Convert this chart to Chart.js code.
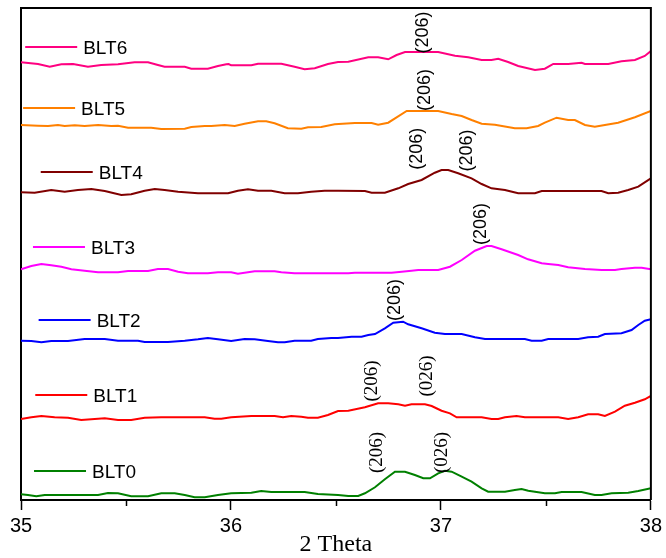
<!DOCTYPE html>
<html>
<head>
<meta charset="utf-8">
<script src="https://cdn.jsdelivr.net/npm/chart.js@4.4.1/dist/chart.umd.min.js"></script>
<style>
  html, body { margin: 0; padding: 0; background: #fff; }
  #wrap { width: 666px; height: 558px; }
</style>
</head>
<body>
<div id="wrap"><canvas id="c" width="666" height="558"></canvas></div>
<script>
// ---- data: [2θ, intensity (offset, a.u.)] ----
const seriesNames = ['BLT0', 'BLT1', 'BLT2', 'BLT3', 'BLT4', 'BLT5', 'BLT6'];

const blt0 = [[35.0,5.7],[35.033,5],[35.073,3.7],[35.113,5],[35.176,5],[35.271,5],[35.367,5],[35.414,7],[35.462,6.7],[35.525,3.7],[35.605,3.7],[35.668,6.7],[35.732,6.7],[35.78,5],[35.827,2.7],[35.875,2.7],[35.938,5],[36.001,6.7],[36.097,7.3],[36.144,9],[36.192,8],[36.351,8],[36.414,6],[36.51,5],[36.559,4],[36.606,4],[36.638,6.7],[36.686,12.7],[36.733,20.7],[36.781,28.3],[36.829,28.3],[36.876,25],[36.916,21.7],[36.948,21.7],[36.987,26.7],[37.019,29.3],[37.051,28.3],[37.099,23.3],[37.146,18.3],[37.194,11.7],[37.225,8.3],[37.305,8.3],[37.352,10],[37.384,11],[37.416,9.3],[37.495,6.7],[37.543,6.7],[37.575,8],[37.67,8],[37.733,5],[37.765,5],[37.813,6.7],[37.892,7.3],[37.94,9],[38.0,11.7]];

const blt1 = [[35.0,81],[35.049,82.7],[35.097,84],[35.16,82.7],[35.224,82.3],[35.287,80],[35.351,81],[35.399,81.7],[35.462,80],[35.525,80],[35.589,82.3],[35.668,82.7],[35.875,82.7],[35.922,81.3],[35.954,81.3],[36.001,82.7],[36.097,84],[36.208,84],[36.248,82.7],[36.287,84],[36.335,83.3],[36.367,82.3],[36.414,82.3],[36.462,85],[36.51,89],[36.559,89.3],[36.638,92.7],[36.701,96.7],[36.749,96.7],[36.797,95.7],[36.829,94.3],[36.86,95.7],[36.924,95.7],[36.956,94],[37.003,89.3],[37.043,86.7],[37.075,82.7],[37.194,82.7],[37.241,81],[37.273,81],[37.305,82.7],[37.36,84],[37.4,82.7],[37.559,82.7],[37.606,81],[37.654,82.7],[37.701,85.7],[37.749,85.7],[37.781,84],[37.829,88.3],[37.876,94.3],[37.924,97.3],[37.971,100.7],[38.0,104]];

const blt2 = [[35.0,159.3],[35.049,159],[35.097,157.7],[35.144,159],[35.224,159],[35.303,161],[35.399,161],[35.462,159.3],[35.557,159.3],[35.589,158],[35.7,158],[35.78,159.3],[35.843,160.7],[35.89,162],[35.938,160.7],[36.001,159],[36.065,161],[36.113,160.7],[36.176,159],[36.224,157.7],[36.256,157.7],[36.303,159.3],[36.382,159.3],[36.414,161],[36.478,162],[36.51,162],[36.575,163.3],[36.622,163.3],[36.654,165],[36.686,166],[36.733,171.7],[36.773,177.3],[36.82,178.3],[36.844,175.7],[36.908,171.7],[36.971,167.3],[37.019,166],[37.099,166],[37.162,162.7],[37.21,161],[37.289,161],[37.4,161],[37.432,159.3],[37.48,159.3],[37.511,161],[37.654,161],[37.701,162.7],[37.749,163.3],[37.781,166],[37.86,166.7],[37.908,170],[37.94,175],[37.971,179.3],[38.0,180.7]];

const blt3 = [[35.0,230.7],[35.049,234],[35.097,236],[35.144,234.7],[35.192,233.3],[35.24,230.7],[35.303,229.3],[35.367,227.7],[35.462,227.7],[35.51,229],[35.605,229],[35.652,231],[35.7,231],[35.748,228.3],[35.795,226.7],[35.89,226.7],[35.938,227.7],[36.001,227.7],[36.033,226.3],[36.081,227.7],[36.113,228.7],[36.208,228.7],[36.24,227.7],[36.303,226.7],[36.51,226.7],[36.559,226.7],[36.59,227.3],[36.765,227.3],[36.813,228.3],[36.86,229.3],[36.892,230],[36.987,230],[37.043,233.3],[37.099,240],[37.162,249.3],[37.218,254],[37.241,254],[37.289,250.7],[37.368,245],[37.415,240.7],[37.48,236.7],[37.511,236],[37.559,235],[37.606,232.7],[37.686,231],[37.765,230],[37.829,230],[37.86,231],[37.924,232.3],[37.956,232.3],[38.0,230.7]];

const blt4 = [[35.0,307.7],[35.065,307.3],[35.144,310],[35.208,308.3],[35.271,310],[35.335,311],[35.399,309],[35.478,305],[35.525,305.7],[35.589,309.3],[35.637,311],[35.684,310],[35.748,308.3],[35.843,306.7],[35.986,306.7],[36.033,309.3],[36.081,310.7],[36.129,309.3],[36.192,309.3],[36.256,306.7],[36.319,306.7],[36.382,308.3],[36.446,309.3],[36.51,309.3],[36.638,309],[36.67,307.3],[36.733,307.3],[36.797,311.7],[36.844,316],[36.908,320],[36.971,327.3],[37.003,330],[37.035,330],[37.082,326.7],[37.146,321.7],[37.194,316],[37.241,311.7],[37.305,310],[37.368,306.7],[37.448,306.7],[37.48,309],[37.606,309],[37.765,309],[37.797,306.7],[37.844,307.3],[37.892,310],[37.94,313.3],[38.0,321.7]];

const blt5 = [[35.0,375],[35.081,374.3],[35.129,374],[35.176,375],[35.208,374],[35.256,374.7],[35.303,374],[35.367,375],[35.43,374],[35.462,374.3],[35.51,372.3],[35.62,372.3],[35.668,371],[35.78,371.3],[35.811,373],[35.875,374],[35.906,374],[35.97,375],[36.018,374],[36.065,376.3],[36.129,378.7],[36.168,378.7],[36.208,376.7],[36.271,371.7],[36.335,371.3],[36.367,372.7],[36.43,373],[36.494,375.7],[36.59,377],[36.67,377],[36.701,375.3],[36.749,377.3],[36.789,382.7],[36.837,389],[36.987,389],[37.051,386],[37.099,384],[37.146,380],[37.194,376.3],[37.257,375.3],[37.352,371.7],[37.408,371.7],[37.463,374],[37.495,377.3],[37.551,382.3],[37.606,380],[37.638,380],[37.686,375],[37.733,373.3],[37.781,375],[37.844,377.3],[37.924,382.7],[38.0,389]];

const blt6 = [[35.0,437.7],[35.081,436],[35.137,433.3],[35.192,435.7],[35.248,436],[35.319,433.3],[35.382,435],[35.462,435.7],[35.541,437.7],[35.605,437.7],[35.652,435],[35.684,433.3],[35.78,433.3],[35.811,431.3],[35.89,431.3],[35.938,434],[35.978,435.7],[35.989,436],[36.001,434.7],[36.097,434.7],[36.129,436.3],[36.24,436.3],[36.303,433.3],[36.351,430.7],[36.399,431.7],[36.462,436],[36.51,438],[36.559,438.3],[36.654,442.7],[36.701,442.7],[36.749,440.7],[36.789,445],[36.829,448],[36.987,448],[37.067,444.3],[37.13,442.7],[37.194,440],[37.241,440],[37.273,441.3],[37.32,438],[37.368,434],[37.448,430],[37.495,431.3],[37.535,436],[37.606,436],[37.67,437.3],[37.686,436],[37.797,436],[37.86,438.7],[37.924,440],[37.971,444],[38.0,449]];

const seriesData = [blt0, blt1, blt2, blt3, blt4, blt5, blt6];
const xTicks = [35, 36, 37, 38];
const xMinorTicks = [35.5, 36.5, 37.5];
const xTitle = '2 Theta';

// peak labels (text, 2θ, intensity of the label centre)
const peakText = ['(206)', '(026)', '(206)', '(026)', '(206)', '(206)', '(206)', '(206)', '(206)', '(206)'];
const peakTheta = [36.694, 37.003, 36.670, 36.933, 36.783, 37.190, 36.887, 37.125, 36.926, 36.914];
const peakInt = [47.5, 47.5, 119, 124, 200, 276, 351.3, 349.5, 410, 467.5];
const peakSerif = [true, true, true, true, false, false, false, false, false, false];

// ---- styles / label anchors ----
const seriesColors = ['#008000', '#FF0000', '#0000FF', '#FF00FF', '#800000', '#FF8000', '#FF0080'];
const labelAnchor = [[35.062, 29], [35.068, 105], [35.084, 180], [35.057, 253], [35.094, 328], [35.010, 392], [35.020, 453]];

const SANS = "'Liberation Sans', Arial, sans-serif";
const SERIF = "'Liberation Serif', 'Times New Roman', serif";

const decorPlugin = {
  id: 'decor',
  afterDatasetsDraw(chart) {
    const ctx = chart.ctx;
    const xs = chart.scales.x, ys = chart.scales.y;
    const a = chart.chartArea;
    ctx.save();
    // frame top & right
    ctx.strokeStyle = '#000';
    ctx.lineWidth = 2;
    ctx.beginPath();
    ctx.moveTo(a.left, a.top);
    ctx.lineTo(a.right, a.top);
    ctx.lineTo(a.right, a.bottom);
    ctx.stroke();
    // minor ticks
    ctx.lineWidth = 1.5;
    xMinorTicks.forEach(v => {
      const px = Math.round(xs.getPixelForValue(v)) + 0.5;
      ctx.beginPath();
      ctx.moveTo(px, a.bottom);
      ctx.lineTo(px, a.bottom + 6);
      ctx.stroke();
    });
    // series labels
    seriesNames.forEach((name, i) => {
      const px = xs.getPixelForValue(labelAnchor[i][0]);
      const py = ys.getPixelForValue(labelAnchor[i][1]);
      ctx.strokeStyle = seriesColors[i];
      ctx.lineWidth = 2;
      ctx.beginPath();
      ctx.moveTo(px, py);
      ctx.lineTo(px + 52, py);
      ctx.stroke();
      ctx.fillStyle = '#000';
      ctx.font = '19px ' + SANS;
      ctx.textAlign = 'left';
      ctx.textBaseline = 'middle';
      ctx.fillText(name, px + 58, py + 1.5);
    });
    // peak labels
    peakText.forEach((t, i) => {
      const px = xs.getPixelForValue(peakTheta[i]);
      const py = ys.getPixelForValue(peakInt[i]);
      ctx.save();
      ctx.translate(px, py);
      ctx.rotate(-Math.PI / 2);
      ctx.fillStyle = '#000';
      ctx.font = peakSerif[i] ? ('19px ' + SERIF) : ('18px ' + SANS);
      ctx.textAlign = 'center';
      ctx.textBaseline = 'middle';
      ctx.fillText(t, 0, 0);
      ctx.restore();
    });
    ctx.restore();
  }
};

new Chart(document.getElementById('c'), {
  type: 'line',
  data: {
    datasets: seriesNames.map((n, i) => ({
      label: n,
      data: seriesData[i].map(p => ({ x: p[0], y: p[1] })),
      borderColor: seriesColors[i],
      borderWidth: 2,
      pointRadius: 0,
      tension: 0,
      fill: false
    }))
  },
  options: {
    responsive: false,
    animation: false,
    devicePixelRatio: 1,
    layout: { padding: { top: 8, right: 15, left: 0, bottom: 0 } },
    plugins: { legend: { display: false }, tooltip: { enabled: false } },
    scales: {
      x: {
        type: 'linear',
        min: 35, max: 38,
        afterBuildTicks: s => { s.ticks = xTicks.map(v => ({ value: v })); },
        afterFit: s => { s.height = 58; },
        grid: { display: true, drawOnChartArea: false, drawTicks: true, tickLength: 10, tickWidth: 1.5, tickColor: '#000', color: '#000' },
        border: { display: true, color: '#000', width: 2 },
        ticks: { color: '#000', font: { family: SANS, size: 20 }, padding: 4, maxRotation: 0, callback: v => String(v) },
        title: { display: true, text: xTitle, color: '#000', font: { family: SERIF, size: 24 }, padding: { top: 0, bottom: -1 } }
      },
      y: {
        type: 'linear',
        min: 0, max: 492,
        afterFit: s => { s.width = 21; },
        grid: { display: false },
        border: { display: true, color: '#000', width: 2 },
        ticks: { display: false }
      }
    }
  },
  plugins: [decorPlugin]
});
</script>
</body>
</html>
